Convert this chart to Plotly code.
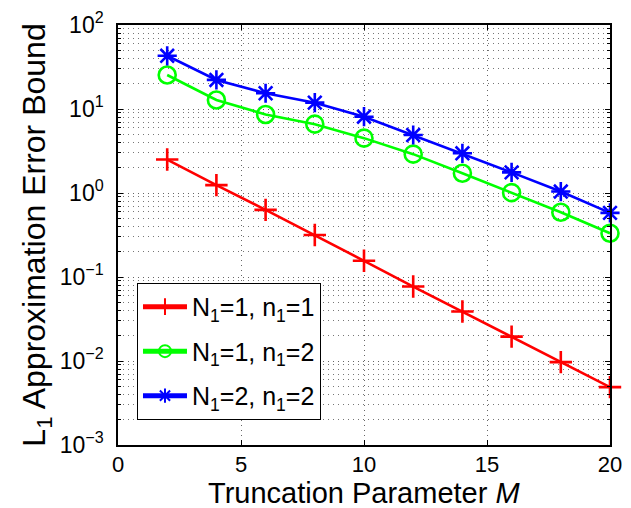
import plotly.graph_objects as go

M = [2, 4, 6, 8, 10, 12, 14, 16, 18, 20]
err_N1_n1 = [2.5, 1.24, 0.63, 0.316, 0.156, 0.077, 0.0388, 0.0195, 0.0097, 0.00488]
err_N1_n2 = [25.4, 12.8, 8.6, 6.6, 4.5, 2.9, 1.72, 1.01, 0.59, 0.332]
err_N2_n2 = [43.0, 22.2, 15.4, 11.9, 8.1, 4.9, 2.97, 1.76, 1.04, 0.58]

names = ["N<sub>1</sub>=1, n<sub>1</sub>=1",
         "N<sub>1</sub>=1, n<sub>1</sub>=2",
         "N<sub>1</sub>=2, n<sub>1</sub>=2"]
colors = ["#ff0000", "#00ff00", "#0000ff"]
symbols = ["cross-thin-open", "circle-open", "asterisk-open"]
sizes = [16, 17, 16]

x_ticks = [0, 5, 10, 15, 20]
y_exps = [-3, -2, -1, 0, 1, 2]
x_title = "Truncation Parameter <i>M</i>"
y_title = "L<sub>1</sub> Approximation Error Bound"

fig = go.Figure()
for i, (ys, nm, c, s, sz) in enumerate(zip([err_N1_n1, err_N1_n2, err_N2_n2], names, colors, symbols, sizes)):
    fig.add_trace(go.Scatter(
        x=M, y=ys, mode="lines+markers", name=nm, legendgroup="g%d" % i,
        cliponaxis=False,
        line=dict(color=c, width=2.6),
        marker=dict(symbol=s, size=sz, color=c, line=dict(color=c, width=2.6)),
    ))

minor_vals = [m * 10 ** e for e in y_exps[:-1] for m in range(2, 10)]
font_family = "Liberation Sans, Arial, sans-serif"
grid_dash = "1px,4px"

fig.update_layout(
    width=623, height=500,
    margin=dict(l=110, r=21, t=17, b=63, autoexpand=False),
    paper_bgcolor="white", plot_bgcolor="white",
    font=dict(family=font_family, color="black"),
    showlegend=True,
    legend=dict(
        x=0.0386, y=0.386, xanchor="left", yanchor="top",
        bgcolor="white", bordercolor="black", borderwidth=1,
        font=dict(size=25, family=font_family),
        traceorder="grouped", tracegroupgap=9, itemsizing="constant", itemwidth=44,
    ),
    xaxis=dict(
        range=[0, 20], tickvals=x_ticks, ticktext=[str(v) for v in x_ticks],
        showline=True, linecolor="black", linewidth=1.5, mirror="ticks",
        ticks="inside", ticklen=5, tickcolor="black",
        showgrid=True, gridcolor="#666", griddash=grid_dash, gridwidth=1,
        zeroline=False, automargin=False,
        tickfont=dict(size=22), ticklabelstandoff=-1,
    ),
    yaxis=dict(
        type="log", range=[-3, 2],
        tickvals=[10 ** e for e in y_exps],
        ticktext=["10<sup>%s</sup>" % (("−%d" % -e) if e < 0 else str(e)) for e in y_exps],
        showline=True, linecolor="black", linewidth=1.5, mirror="ticks",
        ticks="inside", ticklen=5, tickcolor="black",
        showgrid=True, gridcolor="#666", griddash=grid_dash, gridwidth=1,
        minor=dict(tickvals=minor_vals, ticks="inside", ticklen=3, tickcolor="black",
                   showgrid=True, gridcolor="#777", griddash=grid_dash, gridwidth=1),
        zeroline=False, automargin=False,
        tickfont=dict(size=23), ticklabelstandoff=8,
        title=dict(text=y_title, font=dict(size=32), standoff=4),
    ),
    annotations=[dict(
        text=x_title, xref="paper", yref="paper", x=0.5, y=-0.1143,
        xanchor="center", yanchor="middle", showarrow=False,
        font=dict(size=29, family=font_family, color="black"),
    )],
)

fig.write_html("out.html")
